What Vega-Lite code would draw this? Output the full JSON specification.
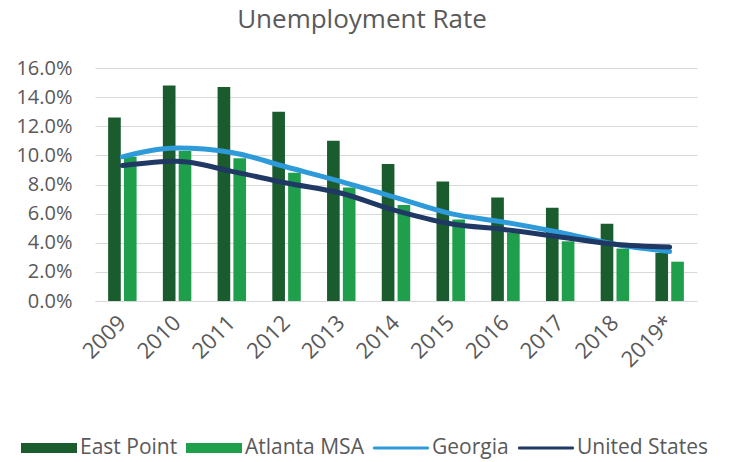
{
  "$schema": "https://vega.github.io/schema/vega-lite/v6.json",
  "autosize": {"type": "none"},
  "width": 602,
  "height": 233,
  "padding": {"left": 95, "top": 68, "right": 36, "bottom": 161},
  "background": "white",
  "title": {
    "text": "Unemployment Rate",
    "font": "Open Sans",
    "fontSize": 26,
    "fontWeight": "normal",
    "color": "#595959",
    "anchor": "middle",
    "frame": "group",
    "dx": -34,
    "offset": 25
  },
  "config": {
    "view": {"stroke": null},
    "font": "Open Sans"
  },
  "data": {
    "values": [
      {"year": "2009", "series": "East Point", "value": 12.6},
      {"year": "2010", "series": "East Point", "value": 14.8},
      {"year": "2011", "series": "East Point", "value": 14.7},
      {"year": "2012", "series": "East Point", "value": 13.0},
      {"year": "2013", "series": "East Point", "value": 11.0},
      {"year": "2014", "series": "East Point", "value": 9.4},
      {"year": "2015", "series": "East Point", "value": 8.2},
      {"year": "2016", "series": "East Point", "value": 7.1},
      {"year": "2017", "series": "East Point", "value": 6.4},
      {"year": "2018", "series": "East Point", "value": 5.3},
      {"year": "2019*", "series": "East Point", "value": 3.3},
      {"year": "2009", "series": "Atlanta MSA", "value": 9.9},
      {"year": "2010", "series": "Atlanta MSA", "value": 10.3},
      {"year": "2011", "series": "Atlanta MSA", "value": 9.8},
      {"year": "2012", "series": "Atlanta MSA", "value": 8.8},
      {"year": "2013", "series": "Atlanta MSA", "value": 7.8},
      {"year": "2014", "series": "Atlanta MSA", "value": 6.6},
      {"year": "2015", "series": "Atlanta MSA", "value": 5.6},
      {"year": "2016", "series": "Atlanta MSA", "value": 4.7},
      {"year": "2017", "series": "Atlanta MSA", "value": 4.1},
      {"year": "2018", "series": "Atlanta MSA", "value": 3.6},
      {"year": "2019*", "series": "Atlanta MSA", "value": 2.7},
      {"year": "2009", "series": "Georgia", "value": 9.9},
      {"year": "2010", "series": "Georgia", "value": 10.5},
      {"year": "2011", "series": "Georgia", "value": 10.2},
      {"year": "2012", "series": "Georgia", "value": 9.2},
      {"year": "2013", "series": "Georgia", "value": 8.2},
      {"year": "2014", "series": "Georgia", "value": 7.1},
      {"year": "2015", "series": "Georgia", "value": 6.0},
      {"year": "2016", "series": "Georgia", "value": 5.4},
      {"year": "2017", "series": "Georgia", "value": 4.7},
      {"year": "2018", "series": "Georgia", "value": 3.9},
      {"year": "2019*", "series": "Georgia", "value": 3.4},
      {"year": "2009", "series": "United States", "value": 9.3},
      {"year": "2010", "series": "United States", "value": 9.6},
      {"year": "2011", "series": "United States", "value": 8.9},
      {"year": "2012", "series": "United States", "value": 8.1},
      {"year": "2013", "series": "United States", "value": 7.4},
      {"year": "2014", "series": "United States", "value": 6.2},
      {"year": "2015", "series": "United States", "value": 5.3},
      {"year": "2016", "series": "United States", "value": 4.9},
      {"year": "2017", "series": "United States", "value": 4.4},
      {"year": "2018", "series": "United States", "value": 3.9},
      {"year": "2019*", "series": "United States", "value": 3.7}
    ]
  },
  "encoding": {
    "x": {
      "field": "year",
      "type": "nominal",
      "sort": null,
      "title": null,
      "scale": {"paddingInner": 0.48, "paddingOuter": 0.24},
      "axis": {
        "labelAngle": -45,
        "labelAlign": "right",
        "labelBaseline": "middle",
        "labelFontSize": 22,
        "labelColor": "#595959",
        "labelPadding": 18,
        "ticks": false,
        "domain": true,
        "domainColor": "#d9d9d9",
        "domainWidth": 1
      }
    },
    "y": {
      "field": "value",
      "type": "quantitative",
      "title": null,
      "scale": {"domain": [0, 16]},
      "axis": {
        "values": [0, 2, 4, 6, 8, 10, 12, 14, 16],
        "labelExpr": "format(datum.value, '.1f') + '%'",
        "labelFontSize": 20,
        "labelColor": "#595959",
        "labelPadding": 23,
        "ticks": false,
        "domain": false,
        "gridColor": "#d9d9d9",
        "gridWidth": 1
      }
    },
    "color": {
      "field": "series",
      "type": "nominal",
      "scale": {
        "domain": ["East Point", "Atlanta MSA", "Georgia", "United States"],
        "range": ["#1a5c2e", "#1f9e4b", "#2e9ad9", "#1f3864"]
      },
      "legend": {
        "title": null,
        "orient": "none",
        "direction": "horizontal",
        "legendX": -74,
        "legendY": 352,
        "labelFontSize": 21,
        "labelColor": "#595959",
        "labelOffset": 3,
        "columnPadding": 8,
        "symbolSize": 3136,
        "symbolStrokeWidth": 0,
        "encode": {
          "symbols": {
            "update": {
              "shape": {"signal": "datum.value == 'Georgia' || datum.value == 'United States' ? 'M-0.95,-0.055H0.95A0.055,0.055 0 0 1 0.95,0.055H-0.95A0.055,0.055 0 0 1 -0.95,-0.055Z' : 'M-1,-0.18H1V0.18H-1Z'"},
              "fill": {"scale": "color", "field": "value"},
              "strokeWidth": {"value": 0},
              "opacity": {"value": 1}
            }
          }
        }
      }
    }
  },
  "layer": [
    {
      "transform": [{"filter": "datum.series == 'East Point' || datum.series == 'Atlanta MSA'"}],
      "mark": {"type": "bar"},
      "encoding": {
        "xOffset": {
          "field": "series",
          "type": "nominal",
          "sort": ["East Point", "Atlanta MSA"],
          "scale": {"paddingInner": 0.2, "paddingOuter": 0}
        }
      }
    },
    {
      "transform": [{"filter": "datum.series == 'Georgia' || datum.series == 'United States'"}],
      "mark": {"type": "line", "strokeWidth": 5, "interpolate": "monotone", "strokeCap": "round"},
      "encoding": {
        "order": {"field": "series"}
      }
    }
  ]
}
